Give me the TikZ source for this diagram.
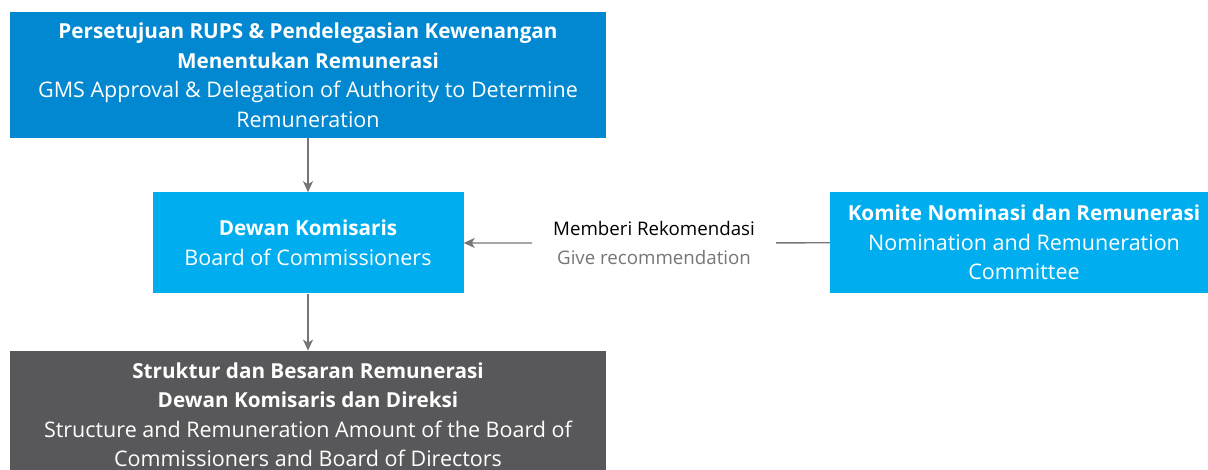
\documentclass[tikz,border=0pt]{standalone}
\usepackage{fontspec}
\setmainfont{Open Sans}
\usetikzlibrary{arrows.meta,positioning}
\definecolor{topcolor}{HTML}{0288D1}
\definecolor{boardcolor}{HTML}{00AEEF}
\definecolor{resultcolor}{HTML}{58585A}
\definecolor{linecolor}{HTML}{767676}
\newcommand{\hd}[1]{{\fontsize{20.7}{29.5}\selectfont\bfseries #1}}
\tikzset{
    box/.style={
        shape=rectangle,
        text=white,
        align=center,
        inner sep=0pt,
        font=\fontsize{21.5}{29.5}\selectfont
    },
    link/.style={
        draw=linecolor,
        line width=1.4pt,
        -{Stealth[length=11pt,width=10pt,inset=3pt]}
    }
}

\begin{document}
\begin{tikzpicture}[x=1pt,y=-1pt]
    \useasboundingbox (0,0) rectangle (1208,469);

    \node[box, fill=topcolor, minimum width=596pt, minimum height=126pt] (rups) at (308,75)
        {\hd{Persetujuan RUPS \& Pendelegasian Kewenangan}\\
         \hd{Menentukan Remunerasi}\\
         GMS Approval \& Delegation of Authority to Determine\\
         Remuneration};

    \node[box, fill=boardcolor, minimum width=311pt, minimum height=101pt, below=54pt of rups.south, anchor=north] (dekom)
        {\hd{Dewan Komisaris}\\
         Board of Commissioners};

    \node[box, fill=boardcolor, minimum width=388pt, minimum height=101pt] (komite) at (1024,242.5)
        {\hd{Komite Nominasi dan Remunerasi}\\
         Nomination and Remuneration\\
         Committee};

    \node[box, fill=resultcolor, minimum width=596pt, minimum height=128pt, below=57pt of dekom.south, anchor=north] (remun)
        {\hd{Struktur dan Besaran Remunerasi}\\
         \hd{Dewan Komisaris dan Direksi}\\
         Structure and Remuneration Amount of the Board of\\
         Commissioners and Board of Directors};

    \node[box, text=black, inner xsep=21pt, font=\fontsize{18.7}{29}\selectfont] (rekom) at (654,243)
        {Memberi Rekomendasi\\
         {\color{linecolor}Give recommendation}};

    \draw[link] (rups) -- (dekom);
    \draw[link] (dekom) -- (remun);
    \draw[draw=linecolor, line width=1.4pt] (komite) -- (rekom);
    \draw[link] (rekom) -- (dekom);
\end{tikzpicture}
\end{document}
